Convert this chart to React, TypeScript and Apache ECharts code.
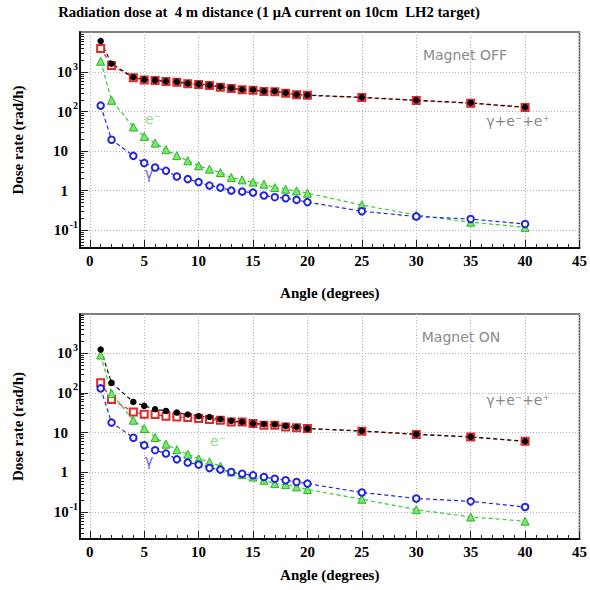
import React, { useEffect, useRef } from 'react';
import * as echarts from 'echarts';

const angles = [1, 2, 4, 5, 6, 7, 8, 9, 10, 11, 12, 13, 14, 15, 16, 17, 18, 19, 20, 25, 30, 35, 40];

// Magnet OFF
const offTotal = [6200, 1650, 750, 650, 630, 590, 570, 520, 500, 470, 430, 395, 365, 360, 330, 330, 300, 272, 264, 232, 195, 167, 130];
const offRed = [4000, 1480, 730, 640, 615, 580, 560, 510, 490, 460, 420, 390, 360, 352, 325, 322, 295, 268, 260, 228, 192, 164, 127];
const offElectron = [1900, 195, 41, 23.6, 16, 10.9, 7.7, 5.7, 4.26, 3.5, 2.87, 2.14, 1.87, 1.64, 1.45, 1.19, 1.08, 0.98, 0.86, 0.43, 0.24, 0.158, 0.117];
const offGamma = [143, 19.5, 7.6, 5.0, 3.85, 3.17, 2.27, 1.95, 1.64, 1.34, 1.19, 1.0, 0.94, 0.89, 0.75, 0.68, 0.64, 0.58, 0.51, 0.3, 0.22, 0.19, 0.142];

// Magnet ON
const onTotal = [1230, 178, 59, 47, 38.6, 35, 31.8, 28.4, 25.8, 24.7, 21.6, 19.7, 18.5, 16.9, 16.2, 15.9, 14.7, 13.8, 12.6, 11.0, 9.1, 7.8, 6.04];
const onRed = [178, 68, 33, 28.9, 28.3, 25.8, 24.7, 23.9, 22.5, 21.3, 20.4, 18.5, 18.5, 16.9, 15.3, 15.3, 13.8, 13.3, 12.6, 10.8, 8.9, 7.7, 6.0];
const onElectron = [890, 96, 20.4, 12.6, 7.5, 5.1, 3.7, 2.84, 2.2, 1.82, 1.42, 1.02, 0.87, 0.76, 0.63, 0.52, 0.49, 0.43, 0.37, 0.21, 0.115, 0.075, 0.059];
const onGamma = [129, 17.8, 7.4, 4.8, 3.6, 2.96, 2.12, 1.75, 1.56, 1.28, 1.17, 1.02, 0.92, 0.84, 0.76, 0.69, 0.63, 0.57, 0.52, 0.31, 0.22, 0.186, 0.134];

const xMajorTicks = [0, 5, 10, 15, 20, 25, 30, 35, 40, 45];
const xMinorTicks = Array.from({ length: 46 }, (_, i) => i);
const yMajorTicks = [0.1, 1, 10, 100, 1000];
const yMinorTicks = [0.02, 0.03, 0.04, 0.05, 0.06, 0.07, 0.08, 0.09, 0.2, 0.3, 0.4, 0.5, 0.6, 0.7, 0.8, 0.9, 2, 3, 4, 5, 6, 7, 8, 9, 20, 30, 40, 50, 60, 70, 80, 90, 200, 300, 400, 500, 600, 700, 800, 900, 2000, 3000, 4000, 5000, 6000, 7000, 8000, 9000];

const titleText = 'Radiation dose at  4 m distance (1 μA current on 10cm  LH2 target)';
const xName = 'Angle (degrees)';
const yName = 'Dose rate (rad/h)';

const SERIF = '"Liberation Serif", "DejaVu Serif", serif';
const SANS = '"DejaVu Sans", "Liberation Sans", sans-serif';

const pair = (ys: number[]) => angles.map((a, i) => [a, ys[i]]);

const yLabel = (v: number) => {
  const e = Math.round(Math.log10(v));
  if (e === 0) return '{p|1}';
  if (e === 1) return '{p|10}';
  return `{b|10}{s|${e}}`;
};

const richY = {
  b: { fontFamily: SERIF, fontWeight: 'bold', fontSize: 15, color: '#000' },
  p: { fontFamily: SERIF, fontWeight: 'bold', fontSize: 15, color: '#000', padding: [0, 10, 0, 0] },
  s: { fontFamily: SERIF, fontWeight: 'bold', fontSize: 10, color: '#000', padding: [0, 0, 12, 1] },
};

function makeAxes(gridIndex: number, yMin: number, yMax: number, xNameGap: number) {
  const xMajor = {
    type: 'value', gridIndex, min: -0.9, max: 45, position: 'bottom',
    name: xName, nameLocation: 'middle', nameGap: xNameGap,
    nameTextStyle: { fontFamily: SERIF, fontWeight: 'bold', fontSize: 15, color: '#000' },
    axisLine: { show: true, onZero: false, lineStyle: { color: '#111', width: 2 } },
    axisTick: { show: true, inside: true, length: 8, customValues: xMajorTicks, lineStyle: { color: '#222', width: 1 } },
    axisLabel: { show: true, customValues: xMajorTicks, margin: 5, fontFamily: SERIF, fontWeight: 'bold', fontSize: 15, color: '#000' },
    splitLine: { show: true, lineStyle: { color: '#b0b0b0', width: 1, type: [1, 2] } },
  };
  const xMinor = {
    type: 'value', gridIndex, min: -0.9, max: 45, position: 'bottom',
    axisLine: { show: false, onZero: false },
    axisTick: { show: true, inside: true, length: 4, customValues: xMinorTicks, lineStyle: { color: '#222', width: 1 } },
    axisLabel: { show: false },
    splitLine: { show: false },
  };
  const yMajor = {
    type: 'log', logBase: 10, gridIndex, min: yMin, max: yMax, position: 'left',
    name: yName, nameLocation: 'middle', nameGap: 55, nameRotate: 90,
    nameTextStyle: { fontFamily: SERIF, fontWeight: 'bold', fontSize: 15, color: '#000' },
    axisLine: { show: true, onZero: false, lineStyle: { color: '#111', width: 2 } },
    axisTick: { show: true, inside: true, length: 8, customValues: yMajorTicks, lineStyle: { color: '#222', width: 1 } },
    axisLabel: { show: true, customValues: yMajorTicks, margin: 2, formatter: yLabel, rich: richY },
    splitLine: { show: true, lineStyle: { color: '#b0b0b0', width: 1, type: [1, 2] } },
  };
  const yMinor = {
    type: 'log', logBase: 10, gridIndex, min: yMin, max: yMax, position: 'left',
    axisLine: { show: false, onZero: false },
    axisTick: { show: true, inside: true, length: 4, customValues: yMinorTicks, lineStyle: { color: '#222', width: 1 } },
    axisLabel: { show: false },
    splitLine: { show: false },
  };
  return { x: [xMajor, xMinor], y: [yMajor, yMinor] };
}

const dash = [4, 3];

function makeSeries(axisIndex: number, total: number[], red: number[], elec: number[], gamma: number[]) {
  const base = { type: 'line', xAxisIndex: axisIndex, yAxisIndex: axisIndex, silent: true };
  return [
    {
      ...base, name: 'red', data: pair(red), symbol: 'emptyRect', symbolSize: 7,
      itemStyle: { color: '#e02828', borderWidth: 1.4 },
      lineStyle: { color: '#e02828', width: 1.2, type: dash },
    },
    {
      ...base, name: 'electron', data: pair(elec), symbol: 'triangle', symbolSize: 8,
      itemStyle: { color: '#7be86a', borderColor: '#25b525', borderWidth: 1 },
      lineStyle: { color: '#33cc33', width: 1.2, type: dash },
    },
    {
      ...base, name: 'gamma', data: pair(gamma), symbol: 'emptyCircle', symbolSize: 6.5,
      itemStyle: { color: '#2424dd', borderWidth: 1.5 },
      lineStyle: { color: '#2424dd', width: 1.2, type: dash },
    },
    {
      ...base, name: 'total', data: pair(total), symbol: 'circle', symbolSize: 6.5,
      itemStyle: { color: '#000' },
      lineStyle: { color: '#111', width: 1.2, type: dash },
    },
  ];
}

export default function App() {
  const ref = useRef<HTMLDivElement>(null);
  useEffect(() => {
    if (!ref.current) return;
    const chart = echarts.init(ref.current, null, { renderer: 'svg' });
    const top = makeAxes(0, 0.035, 10500, 37);
    const bot = makeAxes(1, 0.021, 9600, 28);
    const annoGray = { fontFamily: SANS, fontSize: 14, fill: '#8a8a8a' };
    chart.setOption({
      animation: false,
      backgroundColor: '#fff',
      grid: [
        { left: 80, top: 32, width: 500, height: 216, show: true, borderColor: '#555', borderWidth: 1.5, backgroundColor: 'transparent' },
        { left: 80, top: 314, width: 500, height: 225, show: true, borderColor: '#555', borderWidth: 1.5, backgroundColor: 'transparent' },
      ],
      xAxis: [...top.x, ...bot.x],
      yAxis: [...top.y, ...bot.y],
      series: [
        ...makeSeries(0, offTotal, offRed, offElectron, offGamma),
        ...makeSeries(2, onTotal, onRed, onElectron, onGamma),
      ],
      graphic: [
        { type: 'text', x: 269, y: 12, style: { text: titleText, fontFamily: SERIF, fontWeight: 'bold', fontSize: 14.7, fill: '#000', align: 'center', verticalAlign: 'middle' } },
        { type: 'text', x: 465, y: 55, style: { text: 'Magnet OFF', ...annoGray, align: 'center', verticalAlign: 'middle' } },
        { type: 'text', x: 518, y: 121, style: { text: 'γ+e⁻+e⁺', ...annoGray, align: 'center', verticalAlign: 'middle' } },
        { type: 'text', x: 153, y: 119, style: { text: 'e⁻', fontFamily: SANS, fontSize: 14, fill: '#90dd90', align: 'center', verticalAlign: 'middle' } },
        { type: 'text', x: 149, y: 174, style: { text: 'γ', fontFamily: SANS, fontSize: 15, fill: '#6a6ae0', align: 'center', verticalAlign: 'middle' } },
        { type: 'text', x: 461, y: 337, style: { text: 'Magnet ON', ...annoGray, align: 'center', verticalAlign: 'middle' } },
        { type: 'text', x: 518, y: 400, style: { text: 'γ+e⁻+e⁺', ...annoGray, align: 'center', verticalAlign: 'middle' } },
        { type: 'text', x: 218, y: 441, style: { text: 'e⁻', fontFamily: SANS, fontSize: 14, fill: '#90dd90', align: 'center', verticalAlign: 'middle' } },
        { type: 'text', x: 149, y: 461, style: { text: 'γ', fontFamily: SANS, fontSize: 15, fill: '#6a6ae0', align: 'center', verticalAlign: 'middle' } },
      ],
    });
    return () => chart.dispose();
  }, []);
  return <div ref={ref} style={{ position: 'fixed', left: 0, top: 0, width: 590, height: 590, background: '#fff' }} />;
}
